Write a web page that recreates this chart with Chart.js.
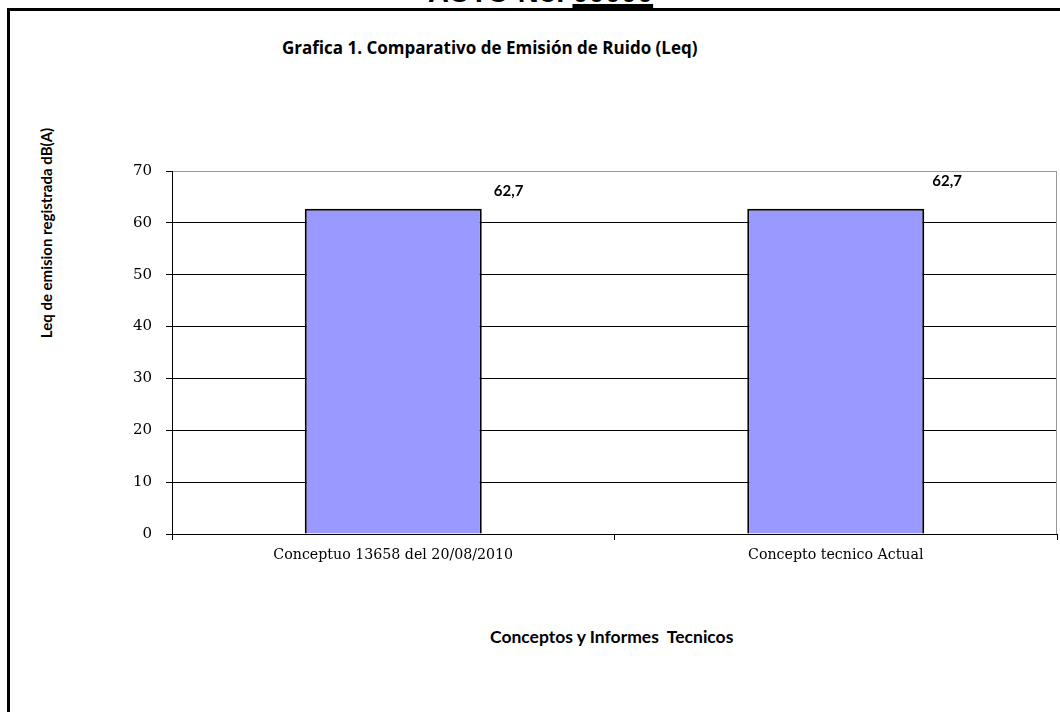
<!DOCTYPE html>
<html>
<head>
<meta charset="utf-8">
<script src="https://cdn.jsdelivr.net/npm/chart.js@4/dist/chart.umd.min.js"></script>
<style>
  html, body { margin: 0; padding: 0; background: #fff; overflow: hidden; }
  #page { position: relative; width: 1060px; height: 712px; }
  #frame {
    position: absolute; left: 7px; top: 8px; width: 1100px; height: 800px;
    border-left: 3px solid #000; border-top: 3px solid #000;
  }
  #auto {
    position: absolute; top: -24px; left: 428px; line-height: 33px;
    font: bold 29px "Liberation Sans", Arial, sans-serif; color: #000; white-space: nowrap;
  }
  #auto span {
    text-decoration: underline; text-decoration-thickness: 4px; text-underline-offset: 2px;
  }
  #chartTitle {
    position: absolute; top: 36px; left: 282px;
    font: bold 17px "Open Sans", sans-serif; color: #000; white-space: nowrap;
  }
  #xTitle {
    position: absolute; top: 626px; left: 490px;
    font: bold 17.5px Lato, sans-serif; color: #000; white-space: pre;
  }
  #yTitle {
    position: absolute; left: 46px; top: 233px;
    transform: translate(-50%, -50%) rotate(-90deg);
    font: bold 15px Lato, sans-serif; color: #000; white-space: nowrap;
  }
  canvas { position: absolute; left: 0; top: 0; }
</style>
</head>
<body>
<div id="page">
  <div id="auto">AUTO No. <span>00000</span></div>
  <div id="frame"></div>
  <div id="chartTitle">Grafica 1. Comparativo de Emisión de Ruido (Leq)</div>
  <div id="yTitle">Leq de emision registrada dB(A)</div>
  <div id="xTitle">Conceptos y Informes  Tecnicos</div>
  <canvas id="chart" width="1060" height="712"></canvas>
</div>
<script>
// values
const categories = ["Conceptuo 13658 del 20/08/2010", "Concepto tecnico Actual"];
const leqValues = [62.7, 62.7];
const yTicks = [0, 10, 20, 30, 40, 50, 60, 70];

// the data labels were dragged around by hand in the original
const labelNudge = [{ dx: 12, dy: -18 }, { dx: 8, dy: -28 }];

const valueLabels = {
  id: "valueLabels",
  afterDatasetsDraw(chart) {
    const { ctx } = chart;
    const meta = chart.getDatasetMeta(0);
    ctx.save();
    ctx.font = "bold 15px Lato, sans-serif";
    ctx.fillStyle = "#000";
    ctx.textAlign = "left";
    ctx.textBaseline = "middle";
    meta.data.forEach((bar, i) => {
      const txt = leqValues[i].toFixed(1).replace(".", ",");
      const n = labelNudge[i];
      ctx.fillText(txt, bar.x + bar.width / 2 + n.dx, bar.y + n.dy);
    });
    ctx.restore();
  },
};

// grey plot-area edge on the right
const plotEdge = {
  id: "plotEdge",
  afterDraw(chart) {
    const { ctx, chartArea } = chart;
    ctx.save();
    ctx.strokeStyle = "#999";
    ctx.lineWidth = 1;
    ctx.beginPath();
    ctx.moveTo(chartArea.right - 0.5, chartArea.top);
    ctx.lineTo(chartArea.right - 0.5, chartArea.bottom);
    ctx.stroke();
    ctx.restore();
  },
};

new Chart(document.getElementById("chart"), {
  type: "bar",
  data: {
    labels: categories,
    datasets: [
      {
        data: leqValues,
        backgroundColor: "#9999FF",
        borderColor: "#000",
        borderWidth: 2,
        barPercentage: 0.4,
        categoryPercentage: 1,
      },
    ],
  },
  options: {
    responsive: false,
    animation: false,
    devicePixelRatio: 1,
    layout: { padding: { top: 171, right: 3, left: 0, bottom: 0 } },
    plugins: {
      legend: { display: false },
      tooltip: { enabled: false },
    },
    scales: {
      x: {
        afterFit(scale) {
          scale.height = 178;
        },
        border: { color: "#000", width: 1 },
        grid: {
          offset: true,
          drawOnChartArea: false,
          tickLength: 6,
          color: "#000",
        },
        ticks: {
          color: "#000",
          padding: 7,
          maxRotation: 0,
          autoSkip: false,
          font: { family: "'DejaVu Serif', serif", size: 14.2 },
        },
      },
      y: {
        min: 0,
        max: 70,
        afterFit(scale) {
          scale.width = 172;
        },
        afterBuildTicks(scale) {
          scale.ticks = yTicks.map((v) => ({ value: v }));
        },
        border: { color: "#000", width: 1 },
        grid: {
          color: (c) => (c.tick && c.tick.value === 70 ? "#999" : "#000"),
          tickColor: "#000",
          tickLength: 6,
        },
        ticks: {
          color: "#000",
          padding: 14,
          font: { family: "'DejaVu Serif', serif", size: 15 },
        },
      },
    },
  },
  plugins: [valueLabels, plotEdge],
});
</script>
</body>
</html>
